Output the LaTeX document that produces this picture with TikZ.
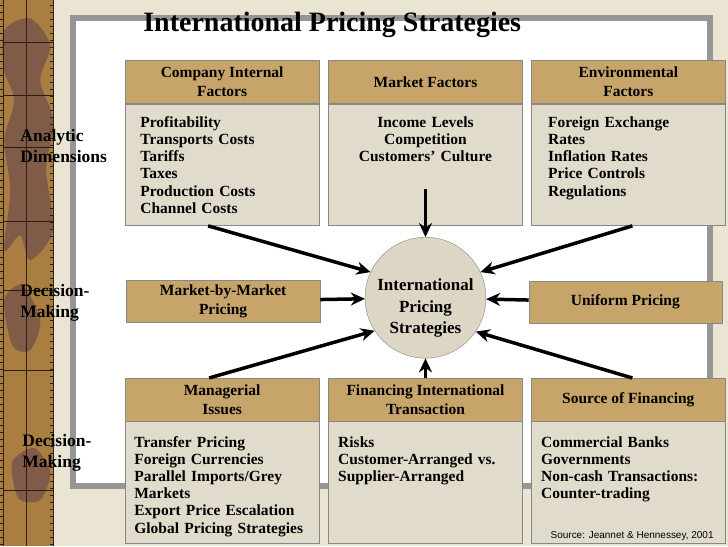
\documentclass[tikz,border=0pt]{standalone}
\usepackage{fontspec}
\setmainfont{Liberation Serif}
\setsansfont{Liberation Sans}
\usepackage{xcolor}
\usetikzlibrary{shapes.geometric, arrows, arrows.meta, positioning, calc}
\definecolor{papercolor}{RGB}{234,228,211}
\definecolor{stripcolor}{RGB}{170,126,64}
\definecolor{stripdark}{RGB}{128,92,72}
\definecolor{stripline}{RGB}{45,30,20}
\definecolor{framegray}{RGB}{150,150,150}
\definecolor{boxgray}{RGB}{135,135,135}
\definecolor{headcolor}{RGB}{199,165,106}
\definecolor{bodycolor}{RGB}{225,219,203}
\definecolor{circlecolor}{RGB}{222,214,197}
\tikzstyle{arrow} = [-{Stealth[length=14pt,width=13pt]},line width=3.5pt]
\tikzstyle{headbox} = [rectangle, draw=boxgray, fill=headcolor, minimum width=194pt, minimum height=43pt, align=center, font=\fontsize{15.5}{19}\selectfont\bfseries]
\tikzstyle{bodybox} = [rectangle, draw=boxgray, fill=bodycolor, minimum width=194pt, minimum height=122pt]
\tikzstyle{items} = [text width=180pt, align=left, anchor=base west, inner sep=0pt, font=\fontsize{15.5}{17.2}\selectfont\bfseries]
\tikzstyle{sidelabel} = [text width=100pt, align=left, anchor=base west, inner sep=0pt, font=\fontsize{17.5}{21.5}\selectfont\bfseries]

\begin{document}
\begin{tikzpicture}[x=1pt, y=-1pt]

% Background
\fill[papercolor] (0,0) rectangle (728,546);
\fill[stripcolor] (0,0) rectangle (53,546);
\fill[stripdark] plot[smooth cycle] coordinates {(4,30) (30,18) (50,45) (40,80) (53,120) (46,170) (53,230) (30,260) (20,235) (4,250) (10,190) (4,140) (14,100) (4,70)};
\fill[stripdark] plot[smooth cycle] coordinates {(4,300) (22,285) (40,320) (30,350) (12,345)};
\fill[stripdark] plot[smooth cycle] coordinates {(12,462) (34,448) (50,472) (40,500) (18,498)};
\draw[stripline, line width=0.8pt] (3,0) -- (3,546) (26,0) -- (26,546) (53,0) -- (53,546);
\foreach \ly in {42,95,147,221,290,370,490}
  \draw[stripline, line width=0.6pt] (3,\ly) -- (53,\ly);
\foreach \ty in {5,12,...,546} {
  \draw[stripline, line width=0.5pt] (0,\ty) -- (3,\ty);
  \draw[stripline, line width=0.5pt] (50,\ty) -- (53,\ty);
}
\fill[framegray] (70,15) rectangle (713,489);
\fill[white] (76,21) rectangle (707,483);

% Title
\node[anchor=base west, inner sep=0pt, font=\fontsize{28}{32}\selectfont\bfseries] (title) at (143,31) {International Pricing Strategies};

% Side labels
\node[sidelabel] (analytic) at (20,141) {Analytic\\Dimensions};
\node[sidelabel] (decisionA) at (20,296) {Decision-\\Making};
\node[sidelabel] (decisionB) at (22,446) {Decision-\\Making};

% Top row
\node[headbox] (ciHead) at (222,81.5) {Company Internal\\Factors};
\node[bodybox, below=0pt of ciHead] (ciBody) {};
\node[headbox] (mfHead) at (425.5,81.5) {Market Factors};
\node[bodybox, below=0pt of mfHead] (mfBody) {};
\node[headbox] (envHead) at (628.5,81.5) {Environmental\\Factors};
\node[bodybox, below=0pt of envHead] (envBody) {};

\node[items] (ciItems) at (140,127) {Profitability\\Transports Costs\\Tariffs\\Taxes\\Production Costs\\Channel Costs};
\node[items, align=center, anchor=base] (mfItems) at (425.5,127) {Income Levels\\Competition\\Customers’ Culture};
\node[items] (envItems) at (548,127) {Foreign Exchange\\Rates\\Inflation Rates\\Price Controls\\Regulations};

% Middle row
\node[headbox, minimum height=42pt] (mbmBox) at (223,301) {Market-by-Market\\Pricing};
\node[headbox, minimum width=193pt, minimum height=42pt] (ufBox) at (625.5,302) {Uniform Pricing};
\node[circle, draw=boxgray, fill=circlecolor, minimum size=121pt] (ipsCircle) at (425.5,297.5) {};
\node[align=center, inner sep=0pt, font=\fontsize{17}{21.3}\selectfont\bfseries] (ipsText) at (425.5,308) {International\\Pricing\\Strategies};

% Bottom row
\node[headbox] (miHead) at (222,399.5) {Managerial\\Issues};
\node[bodybox, below=0pt of miHead] (miBody) {};
\node[headbox] (fitHead) at (425.5,399.5) {Financing International\\Transaction};
\node[bodybox, below=0pt of fitHead] (fitBody) {};
\node[headbox] (sfHead) at (628.5,399.5) {Source of Financing};
\node[bodybox, below=0pt of sfHead] (sfBody) {};

\node[items] (miItems) at (134,447) {Transfer Pricing\\Foreign Currencies\\Parallel Imports/Grey\\Markets\\Export Price Escalation\\Global Pricing Strategies};
\node[items] (fitItems) at (338,447) {Risks\\Customer-Arranged vs.\\Supplier-Arranged};
\node[items] (sfItems) at (541,447) {Commercial Banks\\Governments\\Non-cash Transactions:\\Counter-trading};
\node[anchor=base east, inner sep=0pt, font=\sffamily\fontsize{10}{12}\selectfont] (source) at (714,538) {Source: Jeannet \& Hennessey, 2001};

% Arrows to the circle
\draw[arrow] ($(ciBody.south)+(-14,0)$) -- (ipsCircle.155);
\draw[arrow] ($(mfBody.south)+(0,-37)$) -- (ipsCircle.north);
\draw[arrow] ($(envBody.south)+(4,0)$) -- (ipsCircle.25);
\draw[arrow] (mbmBox) -- (ipsCircle);
\draw[arrow] (ufBox) -- (ipsCircle);
\draw[arrow] ($(miHead.north)+(-13,0)$) -- (ipsCircle.213);
\draw[arrow] (fitHead.north) -- (ipsCircle.south);
\draw[arrow] ($(sfHead.north)+(4,0)$) -- (ipsCircle.-34);

\end{tikzpicture}
\end{document}
